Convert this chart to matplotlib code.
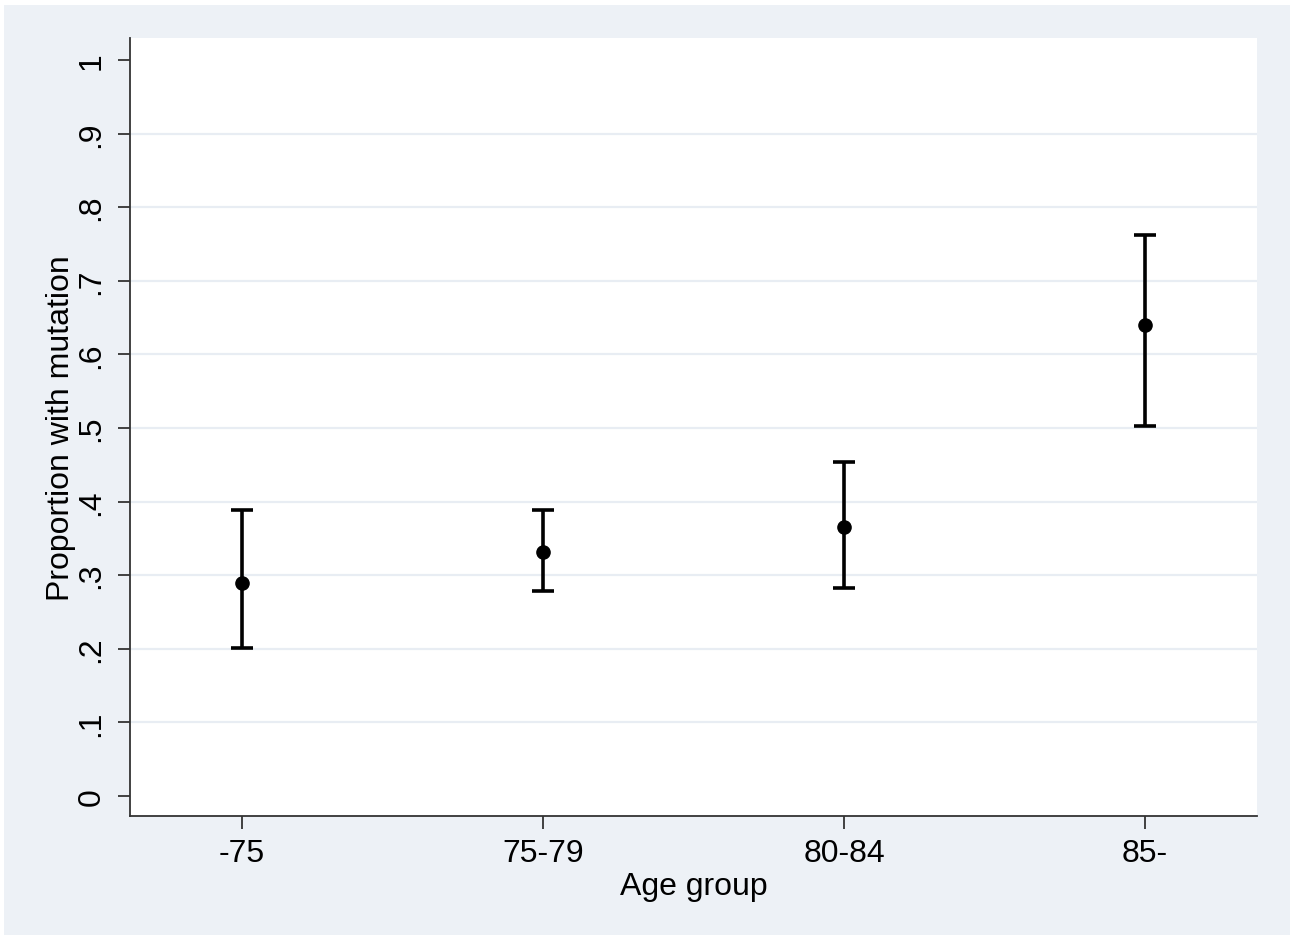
import matplotlib.pyplot as plt
from matplotlib.patches import Rectangle

plt.rcParams["font.family"] = ["Liberation Sans", "DejaVu Sans"]

groups = ["-75", "75-79", "80-84", "85-"]
prop = [0.289, 0.331, 0.365, 0.640]
lower = [0.201, 0.278, 0.282, 0.503]
upper = [0.388, 0.388, 0.454, 0.762]
yticks = [0, 0.1, 0.2, 0.3, 0.4, 0.5, 0.6, 0.7, 0.8, 0.9, 1]
ylabels = ["0", ".1", ".2", ".3", ".4", ".5", ".6", ".7", ".8", ".9", "1"]

bg = "#edf1f6"
grid = "#e8edf3"

fig = plt.figure(figsize=(12.9, 9.37), dpi=100, facecolor="white")
fig.patches.append(Rectangle((4 / 1290, 1 / 937), 1286 / 1290, 930 / 937,
                             transform=fig.transFigure, facecolor=bg,
                             edgecolor="none", zorder=-10))
ax = fig.add_axes([130 / 1290, 1 - 816.7 / 937, 1126.7 / 1290, 777.7 / 937])
ax.set_facecolor("white")

x = list(range(1, len(groups) + 1))
err = [[p - l for p, l in zip(prop, lower)], [u - p for p, u in zip(prop, upper)]]

for t in yticks[1:-1]:
    ax.axhline(t, color=grid, lw=1.6, zorder=0)

ax.errorbar(x, prop, yerr=err, fmt="o", color="black", ms=9.5, lw=2.6,
            capsize=8, capthick=2.6, zorder=3)

ax.set_xlim(0.628, 4.371)
ax.set_ylim(-0.027, 1.03)
ax.set_xticks(x)
ax.set_xticklabels(groups)
ax.set_yticks(yticks)
ax.set_yticklabels(ylabels)

for s in ["top", "right"]:
    ax.spines[s].set_visible(False)
for s in ["left", "bottom"]:
    ax.spines[s].set_color("#333333")
    ax.spines[s].set_linewidth(1.3)

ax.tick_params(axis="both", length=9, width=1.3, color="#333333",
               labelsize=23)
ax.tick_params(axis="x", pad=7)
ax.tick_params(axis="y", pad=8)
for lab in ax.get_yticklabels():
    lab.set_rotation(90)
    lab.set_va("center")

ax.set_xlabel("Age group", fontsize=23, labelpad=2)
ax.set_ylabel("Proportion with mutation", fontsize=23, labelpad=0)

fig.savefig("out.png", dpi=100, facecolor=fig.get_facecolor())
